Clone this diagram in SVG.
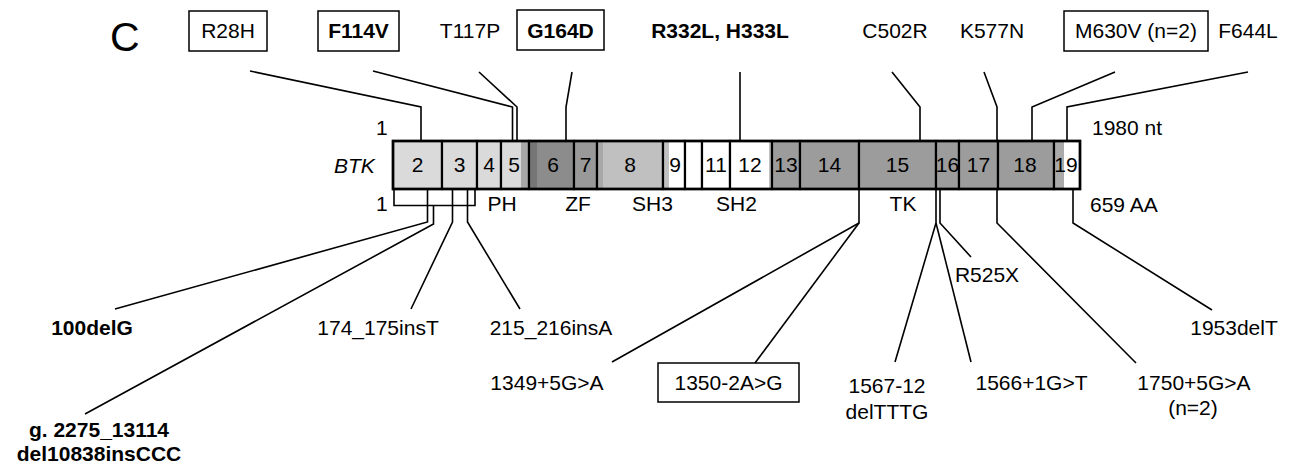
<svg xmlns="http://www.w3.org/2000/svg" width="1310" height="469" viewBox="0 0 1310 469">
<style>
text{font-family:"Liberation Sans",Arial,sans-serif;font-size:21px;fill:#000}
.b{font-weight:bold}
.m{text-anchor:middle}
.box{fill:#fff;stroke:#000;stroke-width:1.5}
.ln{fill:none;stroke:#000;stroke-width:1.6}
.ex{fill:none;stroke:#000;stroke-width:2.2}
.lg{fill:#dadada}.mg{fill:#9c9c9c}.dg{fill:#8c8c8c}.sg{fill:#c0c0c0}.wh{fill:#fff}
</style>
<rect width="1310" height="469" fill="#fff"/>
<text x="110" y="51" style="font-size:41px">C</text>

<g id="gene">
<text x="334" y="173" style="font-style:italic">BTK</text>
<text x="376" y="135">1</text>
<text x="376" y="211">1</text>
<text x="1092" y="135">1980 nt</text>
<text x="1090" y="212">659 AA</text>
</g>

<g id="exons">
<g id="exon2"><rect x="393" y="141" width="49" height="48" class="lg"/><rect x="393" y="141" width="49" height="48" class="ex"/><text x="417.5" y="172" class="m">2</text></g>
<g id="exon3"><rect x="442" y="141" width="35" height="48" class="lg"/><rect x="442" y="141" width="35" height="48" class="ex"/><text x="459.5" y="172" class="m">3</text></g>
<g id="exon4"><rect x="477" y="141" width="24" height="48" class="lg"/><rect x="477" y="141" width="24" height="48" class="ex"/><text x="489" y="172" class="m">4</text></g>
<g id="exon5"><rect x="501" y="141" width="28" height="48" class="lg"/><rect x="521" y="141" width="8" height="48" fill="#a8a8a8"/><rect x="501" y="141" width="28" height="48" class="ex"/><text x="514" y="172" class="m">5</text></g>
<g id="exon6"><rect x="529" y="141" width="45" height="48" class="dg"/><rect x="529" y="141" width="8" height="48" fill="#767676"/><rect x="529" y="141" width="45" height="48" class="ex"/><text x="553" y="172" class="m">6</text></g>
<g id="exon7"><rect x="574" y="141" width="23" height="48" fill="#999"/><rect x="574" y="141" width="23" height="48" class="ex"/><text x="585.5" y="172" class="m">7</text></g>
<g id="exon8"><rect x="597" y="141" width="66" height="48" class="sg"/><rect x="597" y="141" width="6" height="48" fill="#a8a8a8"/><rect x="597" y="141" width="66" height="48" class="ex"/><text x="630" y="172" class="m">8</text></g>
<g id="exon9"><rect x="663" y="141" width="22" height="48" class="wh"/><rect x="663" y="141" width="6" height="48" class="sg"/><rect x="663" y="141" width="22" height="48" class="ex"/><text x="675" y="172" class="m">9</text></g>
<g id="exon10"><rect x="685" y="141" width="17" height="48" class="wh"/><rect x="685" y="141" width="17" height="48" class="ex"/></g>
<g id="exon11"><rect x="702" y="141" width="28" height="48" class="wh"/><rect x="702" y="141" width="28" height="48" class="ex"/><text x="716" y="172" class="m">11</text></g>
<g id="exon12"><rect x="730" y="141" width="42" height="48" class="wh"/><rect x="769" y="141" width="3" height="48" fill="#c0c0c0"/><rect x="730" y="141" width="42" height="48" class="ex"/><text x="750" y="172" class="m">12</text></g>
<g id="exon13"><rect x="772" y="141" width="28" height="48" class="mg"/><rect x="772" y="141" width="28" height="48" class="ex"/><text x="786" y="172" class="m">13</text></g>
<g id="exon14"><rect x="800" y="141" width="59" height="48" class="mg"/><rect x="800" y="141" width="59" height="48" class="ex"/><text x="829.5" y="172" class="m">14</text></g>
<g id="exon15"><rect x="859" y="141" width="77" height="48" class="mg"/><rect x="859" y="141" width="77" height="48" class="ex"/><text x="897.5" y="172" class="m">15</text></g>
<g id="exon16"><rect x="936" y="141" width="23" height="48" class="mg"/><rect x="936" y="141" width="23" height="48" class="ex"/><text x="947.5" y="172" class="m">16</text></g>
<g id="exon17"><rect x="959" y="141" width="39" height="48" class="mg"/><rect x="959" y="141" width="39" height="48" class="ex"/><text x="978.5" y="172" class="m">17</text></g>
<g id="exon18"><rect x="998" y="141" width="56" height="48" class="mg"/><rect x="998" y="141" width="56" height="48" class="ex"/><text x="1025" y="172" class="m">18</text></g>
<g id="exon19"><rect x="1054" y="141" width="26" height="48" class="wh"/><rect x="1054" y="141" width="10" height="48" fill="#aaa"/><rect x="1054" y="141" width="26" height="48" class="ex"/><text x="1066" y="172" class="m">19</text></g>
<rect x="393" y="141" width="687" height="48" fill="none" stroke="#000" stroke-width="2.6"/>
</g>

<g id="domains">
<text x="502" y="211" class="m">PH</text>
<text x="578" y="211" class="m">ZF</text>
<text x="652.5" y="211" class="m">SH3</text>
<text x="736.5" y="211" class="m">SH2</text>
<text x="903" y="211" class="m">TK</text>
</g>

<g id="top-labels">
<g id="m-R28H"><rect x="189" y="11" width="78" height="40" class="box"/><text x="228" y="38" class="m">R28H</text></g>
<g id="m-F114V"><rect x="318" y="11" width="81" height="40" class="box"/><text x="358.5" y="38" class="m b">F114V</text></g>
<g id="m-T117P"><text x="470" y="38" class="m">T117P</text></g>
<g id="m-G164D"><rect x="517" y="10" width="87" height="40" class="box"/><text x="560.5" y="38" class="m b">G164D</text></g>
<g id="m-R332L"><text x="720" y="38" class="m b">R332L, H333L</text></g>
<g id="m-C502R"><text x="895" y="38" class="m">C502R</text></g>
<g id="m-K577N"><text x="992" y="38" class="m">K577N</text></g>
<g id="m-M630V"><rect x="1064" y="11" width="144" height="40" class="box"/><text x="1136" y="38" class="m">M630V (n=2)</text></g>
<g id="m-F644L"><text x="1248" y="38" class="m">F644L</text></g>
</g>

<g id="bottom-labels">
<g id="m-100delG"><text x="92" y="335" class="m b">100delG</text></g>
<g id="m-g2275"><text x="99" y="437" class="m b">g. 2275_13114</text><text x="99" y="461" class="m b">del10838insCCC</text></g>
<g id="m-174"><text x="378" y="335" class="m">174_175insT</text></g>
<g id="m-215"><text x="551" y="335" class="m">215_216insA</text></g>
<g id="m-1349"><text x="547" y="390" class="m">1349+5G&gt;A</text></g>
<g id="m-1350"><rect x="658" y="363" width="141" height="39" class="box"/><text x="728.5" y="390" class="m">1350-2A&gt;G</text></g>
<g id="m-1567"><text x="887" y="393" class="m">1567-12</text><text x="887" y="419" class="m">delTTTG</text></g>
<g id="m-R525X"><text x="987" y="282" class="m">R525X</text></g>
<g id="m-1566"><text x="1031.5" y="390" class="m">1566+1G&gt;T</text></g>
<g id="m-1750"><text x="1194" y="390" class="m">1750+5G&gt;A</text><text x="1193" y="415" class="m">(n=2)</text></g>
<g id="m-1953"><text x="1234" y="335" class="m">1953delT</text></g>
</g>

<g id="connectors" class="ln">
<polyline points="250,71 421,107 421,141"/>
<polyline points="373,71 512.5,107 512.5,141"/>
<polyline points="479,72 517,107 517,141"/>
<polyline points="572,72 566,107 566,141"/>
<polyline points="740,72 740,141"/>
<polyline points="892,72 920,107 920,141"/>
<polyline points="984,72 997,107 997,141"/>
<polyline points="1115,72 1032,107 1032,141"/>
<polyline points="1248,72 1067,107 1067,141"/>
<polyline points="394,189 394,205.5 475,205.5 475,189"/>
<polyline points="427.5,189 427.5,222 115,309"/>
<polyline points="433.5,205.5 433.5,224 85,414"/>
<polyline points="452.5,189 452.5,222 411,309"/>
<polyline points="467.5,189 467.5,222 520,309"/>
<polyline points="859,189 859,223 612,362"/>
<polyline points="859,223 755,363"/>
<polyline points="936,189 936,223 895,362"/>
<polyline points="936,223 971,362"/>
<polyline points="940,189 940,223 971,257"/>
<polyline points="997,189 997,223 1136,363"/>
<polyline points="1073,189 1073,223 1212,310"/>
</g>
</svg>
